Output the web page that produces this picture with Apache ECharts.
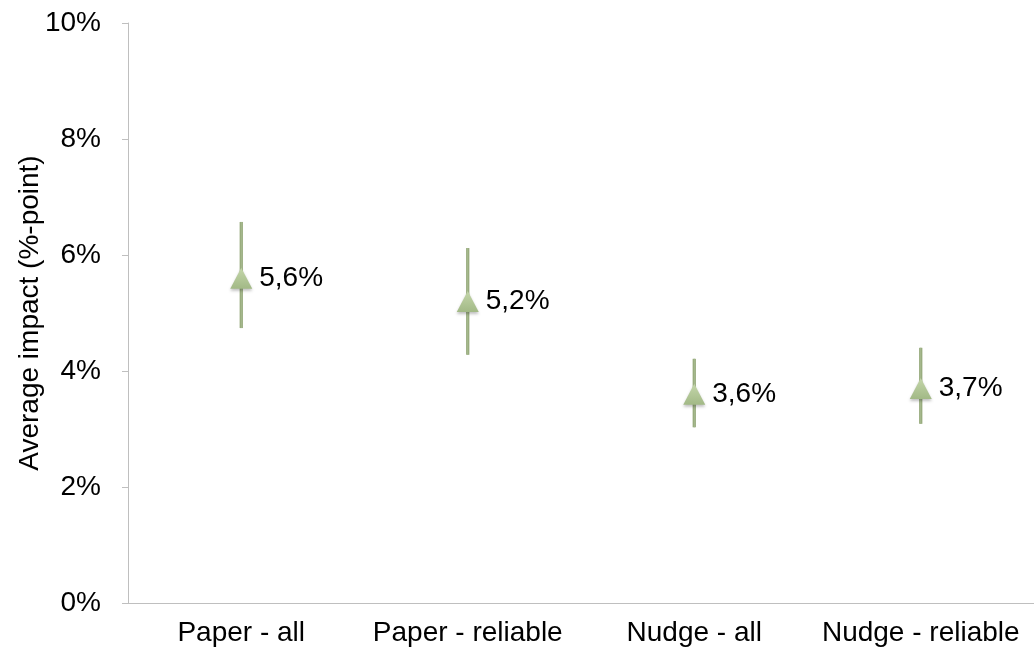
<!DOCTYPE html>
<html>
<head>
<meta charset="utf-8">
<script src="https://cdn.jsdelivr.net/npm/echarts@6/dist/echarts.min.js"></script>
<style>
  html, body { margin: 0; padding: 0; background: #fff; }
  #chart { width: 1034px; height: 652px; }
</style>
</head>
<body>
<div id="chart"></div>
<script>
// Groups and estimated average impact (in %-points) with confidence bounds
const categories = ['Paper - all', 'Paper - reliable', 'Nudge - all', 'Nudge - reliable'];
const impact = [5.6, 5.2, 3.6, 3.7];
const upper = [6.57, 6.12, 4.21, 4.40];
const lower = [4.74, 4.28, 3.03, 3.09];
const yTicks = [0, 2, 4, 6, 8, 10];

const fontFamily = 'Liberation Sans, Arial, sans-serif';
const chart = echarts.init(document.getElementById('chart'));

const errorData = categories.map((c, i) => [i, lower[i], upper[i]]);

chart.setOption({
  animation: false,
  grid: { left: 128, top: 23, width: 916, height: 580 },
  xAxis: {
    type: 'category',
    data: categories,
    axisLine: { lineStyle: { color: '#bfbfbf', width: 1 } },
    axisTick: { length: 6, lineStyle: { color: '#bfbfbf' } },
    axisLabel: { color: '#000', fontSize: 28, fontFamily, margin: 16, interval: 0, hideOverlap: false }
  },
  yAxis: {
    type: 'value',
    min: yTicks[0],
    max: yTicks[yTicks.length - 1],
    interval: 2,
    name: 'Average impact (%-point)',
    nameLocation: 'middle',
    nameGap: 84,
    nameMoveOverlap: false,
    nameTextStyle: { color: '#000', fontSize: 28, fontFamily },
    axisLine: { show: true, lineStyle: { color: '#bfbfbf', width: 1 } },
    axisTick: { show: true, length: 6, lineStyle: { color: '#bfbfbf' } },
    splitLine: { show: false },
    axisLabel: {
      color: '#000', fontSize: 28, fontFamily, margin: 27,
      formatter: v => v + '%'
    }
  },
  series: [
    {
      type: 'custom',
      z: 2,
      data: errorData,
      renderItem: (params, api) => {
        const x = api.value(0);
        const top = api.coord([x, api.value(2)]);
        const bot = api.coord([x, api.value(1)]);
        return {
          type: 'group',
          children: [
            {
              type: 'line',
              shape: { x1: top[0], y1: top[1], x2: bot[0], y2: bot[1] },
              style: { stroke: '#8fa473', lineWidth: 3.2 }
            },
            {
              type: 'line',
              shape: { x1: top[0], y1: top[1], x2: bot[0], y2: bot[1] },
              style: { stroke: '#a6b98e', lineWidth: 1.4 }
            }
          ]
        };
      }
    },
    {
      type: 'scatter',
      z: 3,
      data: impact,
      symbol: 'triangle',
      symbolSize: [22, 21],
      itemStyle: {
        opacity: 1,
        color: new echarts.graphic.LinearGradient(0, 0, 0, 1, [
          { offset: 0, color: '#c4d6aa' },
          { offset: 1, color: '#a2b986' }
        ]),
        shadowColor: 'rgba(0,0,0,0.25)',
        shadowBlur: 3,
        shadowOffsetY: 2
      },
      label: {
        show: true,
        position: 'right',
        distance: 7,
        color: '#000',
        fontSize: 28,
        fontFamily,
        formatter: p => p.value.toFixed(1).replace('.', ',') + '%'
      }
    }
  ]
});
</script>
</body>
</html>
